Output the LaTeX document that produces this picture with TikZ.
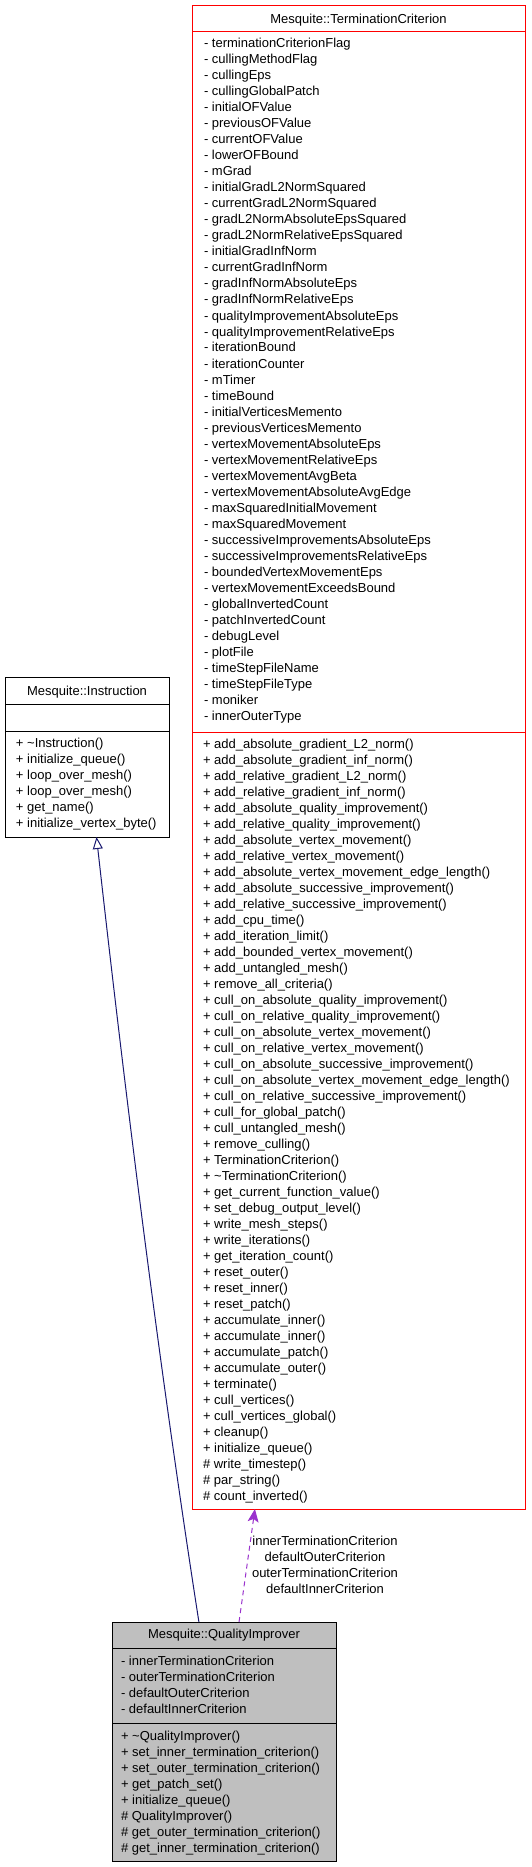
\documentclass[tikz,border=0pt]{standalone}
\usepackage{fontspec}
\setmainfont{Liberation Sans}
\usetikzlibrary{arrows.meta,calc}
\newcommand{\umlfont}{\fontsize{13}{16}\selectfont}
\begin{document}
\begin{tikzpicture}[x=1pt,y=-1pt,
  every node/.style={inner sep=0pt,outer sep=0pt},
  row/.style={anchor=base west,font=\umlfont},
  title/.style={anchor=base,font=\umlfont},
  redbox/.style={draw=red,line width=1pt,anchor=north west},
  blackbox/.style={draw=black,line width=1pt,anchor=north west},
  graybox/.style={draw=black,fill=gray!50!white,line width=1pt,anchor=north west},
  inh/.style={draw={rgb,255:red,25;green,25;blue,112},line width=1pt,-{Triangle[open,width=10pt,length=12pt]}},
  uses/.style={draw={rgb,255:red,154;green,50;blue,205},line width=1pt,dash pattern=on 5pt off 4pt,-{Stealth[width=11pt,length=13pt,inset=3pt]},shorten >=0pt},
  lbl/.style={anchor=base,font=\umlfont}]
\useasboundingbox (0,0) rectangle (531,1867);

% ---------- Mesquite::TerminationCriterion ----------
\node[redbox,minimum width=333pt,minimum height=26pt] (tcHead) at (192,6) {};
\node[redbox,minimum width=333pt,minimum height=700pt] (tcAttr) at (192,32) {};
\node[redbox,minimum width=333pt,minimum height=777pt] (tcOps) at (192,732) {};
\node[title] (tcTitle) at (358.5,23.5) {Mesquite::TerminationCriterion};
\foreach \t [count=\i] in {terminationCriterionFlag,cullingMethodFlag,cullingEps,cullingGlobalPatch,initialOFValue,previousOFValue,currentOFValue,lowerOFBound,mGrad,initialGradL2NormSquared,currentGradL2NormSquared,gradL2NormAbsoluteEpsSquared,gradL2NormRelativeEpsSquared,initialGradInfNorm,currentGradInfNorm,gradInfNormAbsoluteEps,gradInfNormRelativeEps,qualityImprovementAbsoluteEps,qualityImprovementRelativeEps,iterationBound,iterationCounter,mTimer,timeBound,initialVerticesMemento,previousVerticesMemento,vertexMovementAbsoluteEps,vertexMovementRelativeEps,vertexMovementAvgBeta,vertexMovementAbsoluteAvgEdge,maxSquaredInitialMovement,maxSquaredMovement,successiveImprovementsAbsoluteEps,successiveImprovementsRelativeEps,boundedVertexMovementEps,vertexMovementExceedsBound,globalInvertedCount,patchInvertedCount,debugLevel,plotFile,timeStepFileName,timeStepFileType,moniker,innerOuterType}
  {\node[row] (tca\i) at (204,{32+16*\i}) {- \t};}
\foreach \t [count=\i] in {+ add\_absolute\_gradient\_L2\_norm(),+ add\_absolute\_gradient\_inf\_norm(),+ add\_relative\_gradient\_L2\_norm(),+ add\_relative\_gradient\_inf\_norm(),+ add\_absolute\_quality\_improvement(),+ add\_relative\_quality\_improvement(),+ add\_absolute\_vertex\_movement(),+ add\_relative\_vertex\_movement(),+ add\_absolute\_vertex\_movement\_edge\_length(),+ add\_absolute\_successive\_improvement(),+ add\_relative\_successive\_improvement(),+ add\_cpu\_time(),+ add\_iteration\_limit(),+ add\_bounded\_vertex\_movement(),+ add\_untangled\_mesh(),+ remove\_all\_criteria(),+ cull\_on\_absolute\_quality\_improvement(),+ cull\_on\_relative\_quality\_improvement(),+ cull\_on\_absolute\_vertex\_movement(),+ cull\_on\_relative\_vertex\_movement(),+ cull\_on\_absolute\_successive\_improvement(),+ cull\_on\_absolute\_vertex\_movement\_edge\_length(),+ cull\_on\_relative\_successive\_improvement(),+ cull\_for\_global\_patch(),+ cull\_untangled\_mesh(),+ remove\_culling(),+ TerminationCriterion(),+ \textasciitilde TerminationCriterion(),+ get\_current\_function\_value(),+ set\_debug\_output\_level(),+ write\_mesh\_steps(),+ write\_iterations(),+ get\_iteration\_count(),+ reset\_outer(),+ reset\_inner(),+ reset\_patch(),+ accumulate\_inner(),+ accumulate\_inner(),+ accumulate\_patch(),+ accumulate\_outer(),+ terminate(),+ cull\_vertices(),+ cull\_vertices\_global(),+ cleanup(),+ initialize\_queue(),\# write\_timestep(),\# par\_string(),\# count\_inverted()}
  {\node[row] (tcm\i) at (203,{732+16*\i}) {\t};}

% ---------- Mesquite::Instruction ----------
\node[blackbox,minimum width=164pt,minimum height=27pt] (inHead) at (5,677) {};
\node[blackbox,minimum width=164pt,minimum height=27pt] (inAttr) at (5,704) {};
\node[blackbox,minimum width=164pt,minimum height=106pt] (inOps) at (5,731) {};
\node[title] (inTitle) at (87,695.5) {Mesquite::Instruction};
\foreach \t [count=\i] in {+ \textasciitilde Instruction(),+ initialize\_queue(),+ loop\_over\_mesh(),+ loop\_over\_mesh(),+ get\_name(),+ initialize\_vertex\_byte()}
  {\node[row] (inm\i) at (16,{731.5+16*\i}) {\t};}

% ---------- Mesquite::QualityImprover ----------
\node[graybox,minimum width=224pt,minimum height=26pt] (qiHead) at (112,1622) {};
\node[graybox,minimum width=224pt,minimum height=75pt] (qiAttr) at (112,1648) {};
\node[graybox,minimum width=224pt,minimum height=138pt] (qiOps) at (112,1723) {};
\node[title] (qiTitle) at (224,1638.5) {Mesquite::QualityImprover};
\foreach \t [count=\i] in {innerTerminationCriterion,outerTerminationCriterion,defaultOuterCriterion,defaultInnerCriterion}
  {\node[row] (qia\i) at (121,{1649+16*\i}) {- \t};}
\foreach \t [count=\i] in {+ \textasciitilde QualityImprover(),+ set\_inner\_termination\_criterion(),+ set\_outer\_termination\_criterion(),+ get\_patch\_set(),+ initialize\_queue(),\# QualityImprover(),\# get\_outer\_termination\_criterion(),\# get\_inner\_termination\_criterion()}
  {\node[row] (qim\i) at (121,{1724+16*\i}) {\t};}

% ---------- connectors ----------
\coordinate (inhStart) at ($(qiHead.north west)!0.388!(qiHead.north east)$);
\coordinate (inhEnd) at ($(inOps.south west)!0.558!(inOps.south east)$);
\draw[inh] (inhStart) .. controls (160,1372) and (126,1101) .. (inhEnd);

\coordinate (useStart) at ($(qiHead.north west)!0.567!(qiHead.north east)$);
\coordinate (useEnd) at ($(tcOps.south west)!0.189!(tcOps.south east)$);
\draw[uses] (useStart) -- (useEnd);

\node[lbl] (lbl1) at (325,1545.5) {innerTerminationCriterion};
\node[lbl] (lbl2) at (325,1561.5) {defaultOuterCriterion};
\node[lbl] (lbl3) at (325,1577.5) {outerTerminationCriterion};
\node[lbl] (lbl4) at (325,1593.5) {defaultInnerCriterion};
\end{tikzpicture}
\end{document}
